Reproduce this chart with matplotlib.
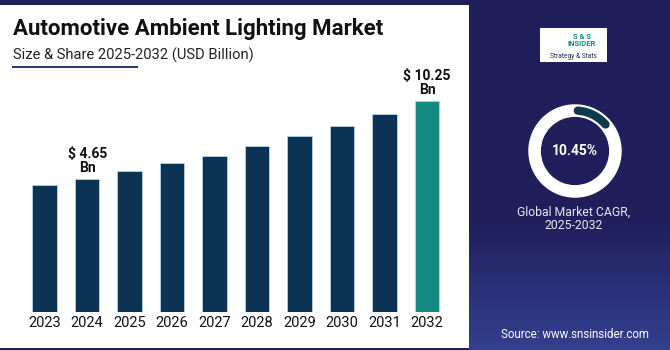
import numpy as np
import matplotlib
matplotlib.use('Agg')
import matplotlib.pyplot as plt
from matplotlib.patches import Rectangle, Wedge
from matplotlib.colors import LinearSegmentedColormap

plt.rcParams['font.family'] = ['Roboto', 'DejaVu Sans']

# data
years = ['2023', '2024', '2025', '2026', '2027', '2028', '2029', '2030', '2031', '2032']
market_size = [4.20, 4.65, 5.20, 5.75, 6.30, 7.00, 7.70, 8.45, 9.30, 10.25]
labelled = {1: '$ 4.65\nBn', 9: '$ 10.25\nBn'}
cagr = 10.45
title = 'Automotive Ambient Lighting Market'
subtitle = 'Size & Share 2025-2032 (USD Billion)'

W, H = 670, 350
navy = '#201f5b'
bar_col = '#0d3354'
hi_col = '#138a82'

fig = plt.figure(figsize=(6.7, 3.5), dpi=100)
fig.patch.set_facecolor(navy)

def fx(px):
    return px / W

def fy(py):
    return 1 - py / H

# soft glow at the bottom of the right panel
bg = fig.add_axes([fx(469), 0, fx(W - 469), fy(220)], zorder=-3)
bg.axis('off')
grad = np.linspace(0, 1, 100)[:, None] * np.ones((1, 50))
cmap = LinearSegmentedColormap.from_list('glow', [navy, '#33408f'])
bg.imshow(grad, cmap=cmap, aspect='auto', origin='upper', alpha=1)

# white panel
fig.patches.append(Rectangle((0, fy(348)), fx(469), fy(5) - fy(348),
                             transform=fig.transFigure, facecolor='white',
                             edgecolor='none', zorder=-2))

fig.text(fx(13), fy(29), title, fontsize=16, fontweight='bold', color='#111111',
         va='center', ha='left')
fig.text(fx(13), fy(55), subtitle, fontsize=10.6, color='#222222', va='center', ha='left')
fig.lines.append(plt.Line2D([fx(13), fx(137)], [fy(67), fy(67)], transform=fig.transFigure,
                            color='#1d3a6b', lw=1.4))

# bars, axis floor is below zero like in the original graphic
y_floor = -4.92
ax = fig.add_axes([fx(19.2), fy(312), fx(452.5 - 19.2), (312 - 60) / H])
ax.set_facecolor('none')
x = np.arange(len(years))
vals = np.array(market_size)
colors = [bar_col] * (len(years) - 1) + [hi_col]
ax.bar(x, vals - y_floor, bottom=y_floor, width=0.58, color=colors,
       edgecolor='#b9d3e0', linewidth=0.6)
ax.set_xlim(-0.6, len(years) - 0.4)
ax.set_ylim(y_floor, y_floor + 252 / 13.93)
ax.set_xticks(x)
ax.set_xticklabels(years, fontsize=10.5, color='#111111')
ax.tick_params(axis='x', length=0, pad=3)
ax.set_yticks([])
for s in ax.spines.values():
    s.set_visible(False)
for i, txt in labelled.items():
    ax.annotate(txt, (x[i], vals[i]), xytext=(0, 3), textcoords='offset points',
                ha='center', va='bottom', fontsize=10, fontweight='bold',
                color='#111111', linespacing=0.95)

# donut
cx, cy, r = 575, 151, 47
dax = fig.add_axes([fx(cx - r - 3), fy(cy + r + 3), fx(2 * r + 6), (2 * r + 6) / H])
dax.set_xlim(-1.07, 1.07)
dax.set_ylim(-1.07, 1.07)
dax.set_aspect('equal')
dax.axis('off')
dax.add_patch(Wedge((0, 0), 1.0, 0, 360, width=0.27, facecolor='white', edgecolor='none'))
theta = np.linspace(np.radians(86), np.radians(41), 50)
dax.plot(0.865 * np.cos(theta), 0.865 * np.sin(theta), color='#0e3a4c', lw=6,
         solid_capstyle='round')
dax.text(0, 0, f'{cagr:.2f}%', ha='center', va='center', fontsize=10,
         fontweight='bold', color='white')
fig.text(fx(574), fy(219), 'Global Market CAGR,\n2025-2032', ha='center', va='center',
         fontsize=8.8, color='#e8e8f4', linespacing=1.05)

# logo box
fig.patches.append(Rectangle((fx(540), fy(62)), fx(67), fy(28) - fy(62),
                             transform=fig.transFigure, facecolor='white', edgecolor='none'))
fig.text(fx(582), fy(40), 'S & S\nINSIDER', ha='center', va='center', fontsize=5.5,
         fontweight='bold', color='#1a8f86', linespacing=1.0)
fig.text(fx(573), fy(57), 'Strategy & Stats', ha='center', va='center', fontsize=4.8,
         color='#1d2a5c')

fig.text(fx(575), fy(335), 'Source: www.snsinsider.com', ha='center', va='center',
         fontsize=8.3, color='white')

fig.savefig('out.png', dpi=100, facecolor=fig.get_facecolor())
